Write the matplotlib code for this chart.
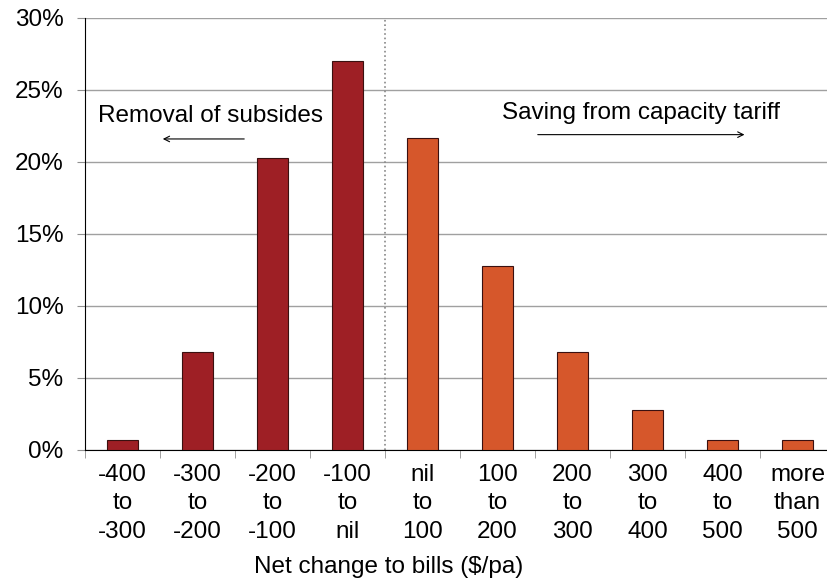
import numpy as np
import matplotlib.pyplot as plt

plt.rcParams['font.family'] = ['Liberation Sans', 'DejaVu Sans']

categories = ['-400\nto\n-300', '-300\nto\n-200', '-200\nto\n-100', '-100\nto\nnil',
              'nil\nto\n100', '100\nto\n200', '200\nto\n300', '300\nto\n400',
              '400\nto\n500', 'more\nthan\n500']
shares = [0.7, 6.8, 20.3, 27.0, 21.7, 12.8, 6.8, 2.8, 0.7, 0.7]
n_removal = 4   # first four bins are bill increases

red = '#9E1F25'
orange = '#D6572B'
fs = 17.5

fig = plt.figure(figsize=(8.27, 5.82), dpi=100)
W, H = 827, 582
ax = fig.add_axes([85/W, 1 - 450/H, 750/W, 432/H])

x = np.arange(len(categories))
cols = [red if i < n_removal else orange for i in range(len(categories))]
ax.bar(x, shares, width=0.41, color=cols, edgecolor='#3a1010', linewidth=0.8, zorder=3)

ax.set_xlim(-0.5, len(categories) - 0.5)
ax.set_ylim(0, 30)
ax.set_yticks(np.arange(0, 31, 5))
ax.set_yticklabels(['%d%%' % v for v in range(0, 31, 5)], fontsize=fs)
ax.yaxis.grid(True, color='#a0a0a0', linewidth=1.0, zorder=0)
ax.tick_params(axis='y', length=5.5, color='#909090', pad=10)

# category labels between boundary ticks
ax.set_xticks(x)
ax.set_xticklabels(categories, fontsize=fs, linespacing=1.38)
ax.tick_params(axis='x', length=0, pad=10)
ax.set_xticks(np.arange(-0.5, len(categories), 1), minor=True)
ax.tick_params(axis='x', which='minor', length=6, color='#909090')

for s in ['top', 'right']:
    ax.spines[s].set_visible(False)
ax.spines['left'].set_color('black')
ax.spines['bottom'].set_color('black')

# divider between increases and savings
ax.axvline(n_removal - 0.5, color='#888888', linestyle=':', linewidth=1.2, zorder=2)

ax.text(1.17, 23.2, 'Removal of subsides', fontsize=fs, ha='center', va='center')
ax.annotate('', xy=(0.5, 21.6), xytext=(1.66, 21.6),
            arrowprops=dict(arrowstyle='->', color='black', lw=0.8))
ax.text(6.91, 23.4, 'Saving from capacity tariff', fontsize=fs, ha='center', va='center')
ax.annotate('', xy=(8.33, 21.9), xytext=(5.5, 21.9),
            arrowprops=dict(arrowstyle='->', color='black', lw=0.8))

fig.text(389/W, 1 - 567/H, 'Net change to bills ($/pa)', fontsize=fs, ha='center', va='center')

fig.savefig('out.png', dpi=100)
